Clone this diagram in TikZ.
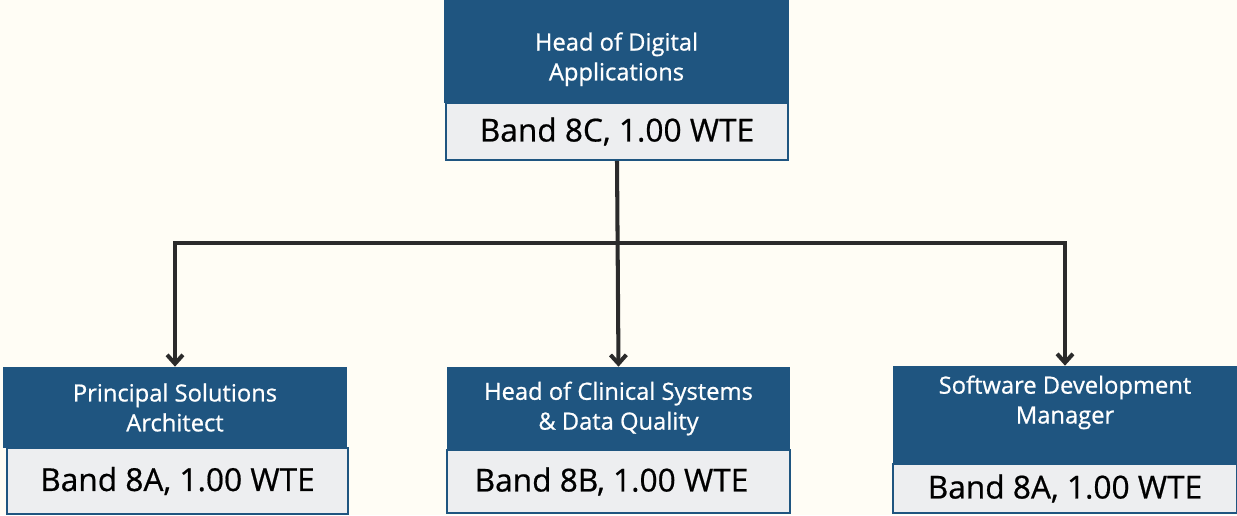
\documentclass[tikz,border=0pt]{standalone}
\usepackage{fontspec}
\usetikzlibrary{arrows.meta}
\newfontfamily\titlefont[FakeBold=0.8]{Open Sans}
\newfontfamily\bandfont[FakeBold=0.6]{Open Sans}
\definecolor{roleblue}{HTML}{1F5580}
\definecolor{bandgrey}{HTML}{EDEEF0}
\definecolor{papercream}{HTML}{FFFDF5}
\definecolor{linegrey}{HTML}{2B2B2B}
\begin{document}
\begin{tikzpicture}[role/.style={fill=roleblue, text=white, align=center, inner sep=0pt, font=\titlefont\fontsize{13.5}{17}\selectfont}, band/.style={draw=roleblue, line width=1.1pt, fill=bandgrey, inner sep=0pt, font=\bandfont\fontsize{18}{22}\selectfont}, link/.style={draw=linegrey, line width=2.3pt, -{Straight Barb[length=5pt,width=9pt]}}]
	\useasboundingbox[fill=papercream] (0,0) rectangle (24.74,-10.3);
	\node[role, minimum width=6.9cm, minimum height=2.06cm, text height=1.27cm] (H) at (12.33,-1.03) {Head of Digital\\Applications};
	\node[band, minimum width=6.84cm, minimum height=1.14cm] (HB) at (12.34,-2.63) {Band 8C, 1.00 WTE};
	\node[role, minimum width=6.88cm, minimum height=1.62cm] (P) at (3.5,-8.15) {Principal Solutions\\Architect};
	\node[band, minimum width=6.82cm, minimum height=1.32cm] (PB) at (3.55,-9.62) {Band 8A, 1.00 WTE};
	\node[role, minimum width=6.86cm, minimum height=1.66cm] (C) at (12.37,-8.17) {Head of Clinical Systems\\\& Data Quality};
	\node[band, minimum width=6.86cm, minimum height=1.26cm] (CB) at (12.37,-9.63) {Band 8B, 1.00 WTE\hspace*{0.28cm}};
	\node[role, minimum width=6.88cm, minimum height=1.96cm, text depth=0.62cm] (S) at (21.3,-8.3) {Software Development\\Manager};
	\node[band, minimum width=6.88cm, minimum height=0.98cm] (SB) at (21.3,-9.77) {Band 8A, 1.00 WTE};
	\coordinate (bus) at (12.34,-4.86);
	\draw[link] (HB.south) -- (C.north);
	\draw[link] (bus) -| (P.north);
	\draw[link] (bus) -| (S.north);
\end{tikzpicture}
\end{document}
